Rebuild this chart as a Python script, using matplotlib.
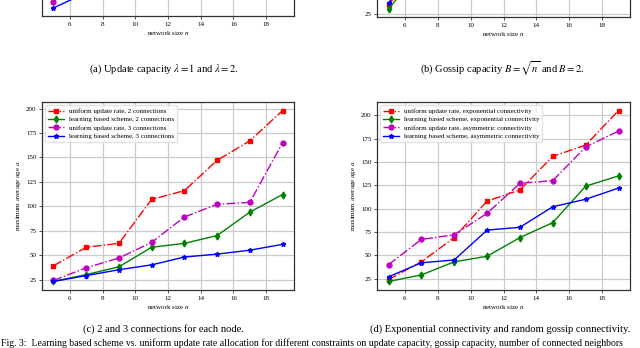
import numpy as np
import matplotlib.pyplot as plt

plt.rcParams['font.family'] = ['Liberation Serif', 'DejaVu Serif']
plt.rcParams['mathtext.fontset'] = 'stix'

# --- data ---
n = [5, 7, 9, 11, 13, 15, 17, 19]

# (c) 2 and 3 connections
c_uniform_2 = [39, 58, 62, 107, 116, 147, 167, 198]
c_learning_2 = [23, 30, 38, 58, 62, 70, 94, 112]
c_uniform_3 = [24, 37, 47, 63, 89, 102, 104, 165]
c_learning_3 = [23, 29, 35, 40, 48, 51, 55, 61]

# (d) exponential / asymmetric connectivity
d_uniform_exp = [24, 43, 69, 108, 120, 156, 168, 205]
d_learning_exp = [22, 29, 43, 49, 69, 85, 124, 135]
d_uniform_asym = [40, 67, 72, 95, 127, 130, 166, 183]
d_learning_asym = [27, 42, 45, 77, 80, 102, 110, 122]

# partial panels (a) and (b), only their bottom edge is visible
n_top = [5, 7]
a_magenta = [28, 60]
a_blue = [22, 37]
b_red = [34, 75]
b_blue = [36, 76]
b_green = [30, 70]

labels_c = ['uniform update rate, 2 connections', 'learning based scheme, 2 connections',
            'uniform update rate, 3 connections', 'learning based scheme, 3 connections']
labels_d = ['uniform update rate, exponential connectivity', 'learning based scheme, exponential connectivity',
            'uniform update rate, asymmetric connectivity', 'learning based scheme, asymmetric connectivity']

styles = [dict(color='red', ls='-.', marker='s'),
          dict(color='green', ls='-', marker='d'),
          dict(color='m', ls='-.', marker='o'),
          dict(color='blue', ls='-', marker='*')]

W, H = 640, 348
fig = plt.figure(figsize=(W / 100, H / 100), dpi=100)


def px_axes(left, right, top, bottom):
    return fig.add_axes([left / W, 1 - bottom / H, (right - left) / W, (bottom - top) / H])


def style_axes(ax):
    ax.grid(True, color='#cccccc', lw=0.9)
    ax.set_axisbelow(True)
    for s in ax.spines.values():
        s.set_color('#333333')
        s.set_linewidth(0.9)
    ax.tick_params(labelsize=5, length=2.5, width=0.6, color='#333333', pad=1.5)
    ax.set_xlim(4.3, 19.7)
    ax.set_xticks([6, 8, 10, 12, 14, 16, 18])
    ax.set_xlabel('network size $n$', fontsize=5, labelpad=2)


def plot_panel(ax, series, labels):
    for ys, st, lab in zip(series, styles, labels):
        ax.plot(n, ys, lw=1.0, markersize=3.5, label=lab, **st)
    ax.set_yticks([25, 50, 75, 100, 125, 150, 175, 200])
    ax.set_ylabel('maximum average age $a$', fontsize=5, labelpad=2)
    leg = ax.legend(loc='upper left', fontsize=5, frameon=True, handlelength=2.2,
                    borderpad=0.4, labelspacing=0.35, fancybox=True)
    leg.get_frame().set_edgecolor('#dddddd')


# --- top partial panels ---
ax_a = px_axes(42, 294, -172, 16)
style_axes(ax_a)
ax_a.plot(n_top, a_magenta, lw=1.0, markersize=3.5, **styles[2])
ax_a.plot(n_top, a_blue, lw=1.0, markersize=3.5, **styles[3])
ax_a.set_ylim(14, 200)
ax_a.set_yticks([])

ax_b = px_axes(377, 630, -172, 17)
style_axes(ax_b)
ax_b.plot(n_top, b_red, lw=1.0, markersize=3.5, **styles[0])
ax_b.plot(n_top, b_blue, lw=1.0, markersize=3.5, **styles[3])
ax_b.plot(n_top, b_green, lw=1.0, markersize=3.5, **styles[1])
ax_b.set_ylim(22, 210)
ax_b.set_yticks([25])

# --- (c) ---
ax_c = px_axes(42, 294, 102, 290)
style_axes(ax_c)
plot_panel(ax_c, [c_uniform_2, c_learning_2, c_uniform_3, c_learning_3], labels_c)

# --- (d) ---
ax_d = px_axes(377, 630, 102, 290)
style_axes(ax_d)
plot_panel(ax_d, [d_uniform_exp, d_learning_exp, d_uniform_asym, d_learning_asym], labels_d)

# --- captions ---
cap = dict(fontsize=7.6, ha='center', va='center')
fig.text(164 / W, 1 - 69 / H, r'(a) Update capacity $\lambda = 1$ and $\lambda = 2$.', **cap)
fig.text(502 / W, 1 - 69 / H, r'(b) Gossip capacity $B = \sqrt{n}$ and $B = 2$.', **cap)
fig.text(163 / W, 1 - 329 / H, '(c) 2 and 3 connections for each node.', **cap)
fig.text(500 / W, 1 - 329 / H, '(d) Exponential connectivity and random gossip connectivity.', **cap)
fig.text(1 / W, 1 - 343 / H,
         'Fig. 3:  Learning based scheme vs. uniform update rate allocation for different constraints '
         'on update capacity, gossip capacity, number of connected neighbors',
         fontsize=7.0, ha='left', va='center')

fig.savefig('out.png', dpi=100)
